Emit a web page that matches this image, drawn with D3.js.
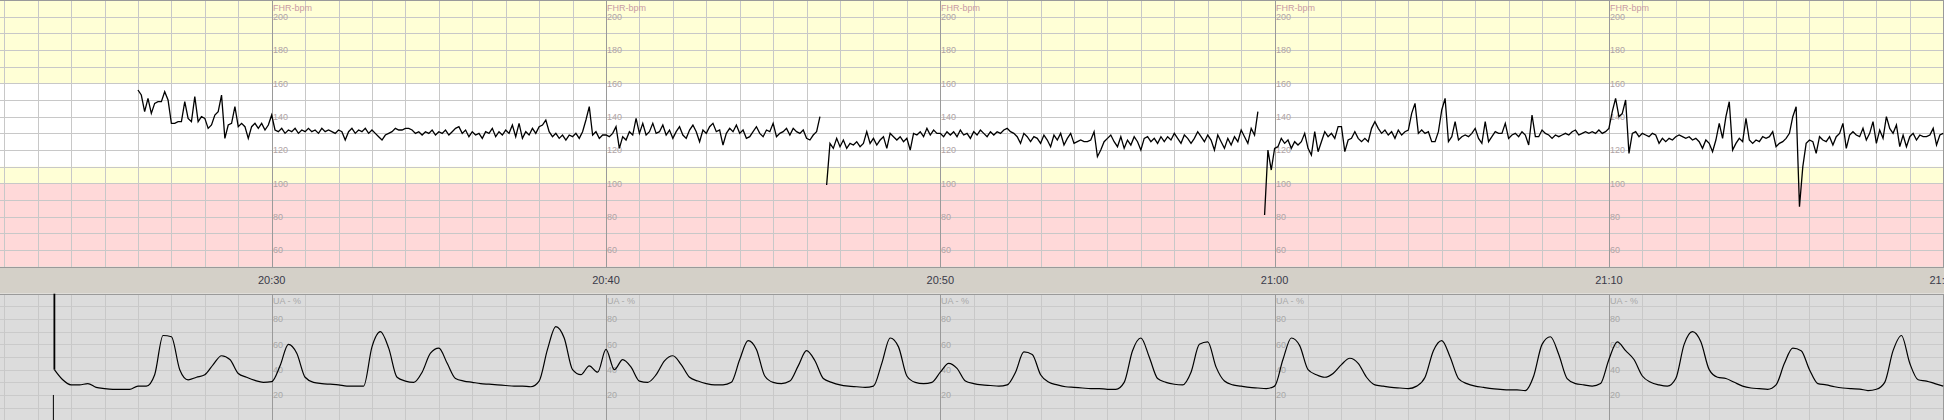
<!DOCTYPE html>
<html>
<head>
<meta charset="utf-8">
<script src="https://cdn.jsdelivr.net/npm/d3@7"></script>
<style>
  body { margin: 0; background: #fff; overflow: hidden; }
  svg { display: block; }
  text { font-family: "Liberation Sans", Arial, sans-serif; }
</style>
</head>
<body>
<div id="chart"></div>
<script>
// fetal heart rate, one value every 6 s, null = signal loss
var fhrStart = "20:26:00", fhrStepSec = 6;
var fhr2026 = [156, 153, 143, 151, 142, 148, 149, 149, 155, 150,
  136, 136, 137, 137, 149, 139, 137, 152, 137, 140,
  139, 133, 135, 141, 143, 153, 127, 135, 136, 146,
  134, 136, 134, 127, 134, 136, 133, 136, 132, 135];
var fhr2030 = [141, 132, 131, 133, 130, 132, 131, 133, 130, 132,
  131, 133, 131, 132, 130, 133, 131, 132, 131, 130,
  132, 131, 126, 131, 133, 130, 132, 131, 133, 130,
  132, 130, 128, 126, 129, 130, 131, 133, 132, 132,
  133, 133, 132, 130, 131, 129, 131, 130, 132, 129,
  131, 130, 132, 129, 131, 133, 134, 130, 132, 128,
  131, 129, 130, 127, 131, 130, 133, 128, 131, 129,
  132, 130, 135, 128, 136, 127, 131, 129, 133, 130,
  134, 135, 138, 131, 128, 130, 127, 129, 126, 129,
  128, 130, 127, 131, 138, 146, 129, 131, 127, 129];
var fhr2040 = [129, 128, 130, 134, 121, 128, 126, 131, 129, 139,
  130, 136, 129, 131, 136, 130, 131, 135, 129, 132,
  127, 131, 134, 129, 127, 132, 135, 131, 125, 132,
  130, 134, 136, 131, 132, 123, 130, 133, 131, 135,
  130, 132, 127, 128, 131, 134, 130, 128, 132, 131,
  136, 128, 130, 131, 133, 129, 133, 131, 130, 132,
  127, 126, 129, 131, 140, null, 99, 124, 121, 127,
  122, 126, 121, 124, 123, 125, 122, 124, 131, 124,
  127, 123, 126, 128, 121, 130, 128, 126, 128, 125,
  127, 120, 130, 129, 131, 128, 133, 129, 132, 130];
var fhr2050 = [130, 128, 131, 129, 131, 128, 132, 129, 130, 127,
  131, 129, 132, 130, 128, 131, 129, 131, 130, 132,
  133, 131, 130, 128, 124, 130, 128, 125, 128, 127,
  124, 129, 126, 122, 129, 126, 130, 123, 127, 130,
  124, 125, 126, 125, 125, 126, 131, 116, 120, 125,
  127, 129, 125, 122, 128, 121, 126, 123, 128, 125,
  120, 127, 128, 125, 127, 124, 128, 125, 128, 126,
  130, 127, 124, 129, 127, 124, 127, 131, 128, 125,
  129, 126, 120, 129, 125, 121, 127, 123, 128, 125,
  132, 128, 124, 133, 129, 143, null, 81, 120, 108];
var fhr2100 = [121, 122, 127, 124, 126, 121, 125, 123, 125, 130,
  121, 117, 131, 119, 125, 131, 128, 130, 127, 134,
  134, 119, 126, 127, 131, 127, 125, 127, 125, 133,
  137, 133, 130, 132, 129, 131, 127, 132, 129, 131,
  132, 142, 148, 130, 132, 130, 131, 125, 125, 131,
  144, 151, 125, 128, 137, 126, 128, 129, 128, 130,
  133, 127, 124, 137, 125, 128, 131, 130, 130, 136,
  127, 129, 130, 128, 131, 129, 123, 141, 128, 128,
  132, 130, 129, 127, 129, 128, 129, 130, 129, 131,
  132, 129, 130, 131, 130, 131, 130, 132, 130, 131];
var fhr2110 = [133, 143, 151, 140, 142, 150, 118, 130, 131, 128,
  130, 129, 128, 130, 129, 124, 127, 125, 127, 126,
  128, 129, 128, 127, 128, 126, 127, 125, 121, 126,
  124, 119, 126, 136, 127, 140, 149, 120, 124, 127,
  125, 139, 126, 124, 126, 125, 128, 127, 128, 131,
  122, 124, 125, 127, 130, 140, 146, 86, 110, 124,
  126, 125, 118, 128, 126, 125, 128, 123, 128, 130,
  136, 121, 129, 131, 129, 128, 133, 126, 130, 137,
  124, 132, 127, 140, 133, 130, 135, 122, 129, 122,
  128, 130, 126, 129, 128, 128, 129, 133, 123, 129,
  130];

// uterine activity, one value every 15 s
var uaStart = "20:23:30", uaStepSec = 15;
var ua2023 = [40, 32, 28, 28, 29, 26, 25, 24.5, 24.5, 24.5, 27, 27, 36, 67, 66, 40, 32, 34, 36, 44, 51, 48, 37, 34, 31.5, 30];
var ua2030 = [30.5, 43, 60, 53, 34, 30, 29, 28.5, 28, 27, 27, 27, 58, 70, 57, 34, 31, 30, 38, 53,
  57, 45, 33, 31, 30, 29, 28.5, 28, 27.5, 27, 27, 26.5, 31, 56, 74, 65, 40, 36, 43, 38];
var ua2040 = [56, 40, 48, 42, 31, 30, 36, 47, 51, 44, 34, 31, 29, 28, 28, 30, 48, 63, 56, 35,
  30, 29, 31, 43, 55, 47, 33, 30, 28, 27, 26.5, 26, 27, 45, 65, 58, 35, 30, 29, 30];
var ua2050 = [38, 45, 41, 31, 29, 28, 27.5, 27, 28, 38, 54, 52, 36, 30, 28, 26.5, 26, 25.5, 25, 25,
  24.5, 24.5, 30, 55, 65, 50, 33, 30, 28.5, 28, 38, 60, 62, 42, 31, 28, 27, 26, 25.5, 25];
var ua2100 = [27, 48, 65, 59, 40, 36, 34, 37, 44, 49, 45, 34, 28, 27, 26, 25.5, 25, 27, 34, 55,
  63, 50, 33, 29, 27, 26, 25, 24.5, 24, 24, 23.5, 35, 60, 66, 52, 33, 29, 28, 27, 29];
var ua2110 = [48, 62, 55, 48, 35, 30, 28, 27, 33, 60, 70, 62, 40, 34, 33, 30, 27, 25.5, 25, 24.5,
  28, 45, 57, 55, 40, 29, 28, 26.5, 25.5, 25, 24.7, 23.5, 24.5, 30, 55, 67, 45, 32, 31, 29, 27];

// axis setup
var viewStart = "20:21:52.4", viewEnd = "21:20:01.4";
var fhrRange = [50, 210], fhrZones = [210, 160, 110, 100, 50];
var fhrTicks = [200, 180, 160, 140, 120, 100, 80, 60];
var uaRange = [0, 100], uaTicks = [80, 60, 40, 20];

var width = 1944, height = 420;
var fhrTop = 0, fhrBottom = 266.7, bandBottom = 293.7, uaBottom = 420.3;
var zoneColors = ["#ffffd6", "#ffffff", "#ffffd6", "#ffd9d9"];

function t(s) { return new Date("2020-01-01T" + s); }
function series(start, step, chunks) {
  var vals = [].concat.apply([], chunks), t0 = t(start).getTime();
  return vals.map(function(v, i) { return { time: new Date(t0 + i * step * 1000), value: v }; });
}

var fhr = series(fhrStart, fhrStepSec, [fhr2026, fhr2030, fhr2040, fhr2050, fhr2100, fhr2110]);
var ua = series(uaStart, uaStepSec, [ua2023, ua2030, ua2040, ua2050, ua2100, ua2110]);

var x = d3.scaleTime().domain([t(viewStart), t(viewEnd)]).range([0, width]);
var yF = d3.scaleLinear().domain(fhrRange).range([fhrBottom, fhrTop]);
var yU = d3.scaleLinear().domain(uaRange).range([uaBottom, bandBottom]);

var minutes = d3.timeMinute.range(x.domain()[0], x.domain()[1]);
var majors = minutes.filter(function(d) { return d.getMinutes() % 10 === 0; });
// the last 10-minute line sits on the right edge: only its (clipped) time label shows
var labelled = majors.filter(function(d) { return x(d) < width - 40; });
var px = function(v) { return Math.round(v) + 0.5; };

var svg = d3.select("#chart").append("svg")
    .attr("width", width).attr("height", height);

// FHR zones
svg.append("g").selectAll("rect")
  .data(d3.pairs(fhrZones))
  .enter().append("rect")
    .attr("x", 0).attr("width", width)
    .attr("y", function(d) { return yF(d[0]); })
    .attr("height", function(d) { return yF(d[1]) - yF(d[0]); })
    .attr("fill", function(d, i) { return zoneColors[i]; });

// time band and UA background
svg.append("rect").attr("x", 0).attr("width", width)
  .attr("y", fhrBottom).attr("height", bandBottom - fhrBottom).attr("fill", "#d4d0c8");
svg.append("rect").attr("x", 0).attr("width", width)
  .attr("y", bandBottom).attr("height", uaBottom - bandBottom).attr("fill", "#dcdcdc");

var grid = svg.append("g").attr("shape-rendering", "crispEdges");

// horizontal grid
grid.selectAll(".hf").data(d3.range(60, 210, 10)).enter().append("line")
  .attr("x1", 0).attr("x2", width)
  .attr("y1", function(d) { return px(yF(d)); }).attr("y2", function(d) { return px(yF(d)); })
  .attr("stroke", "#c8c8c8");
grid.selectAll(".hu").data(d3.range(10, 100, 10)).enter().append("line")
  .attr("x1", 0).attr("x2", width)
  .attr("y1", function(d) { return px(yU(d)); }).attr("y2", function(d) { return px(yU(d)); })
  .attr("stroke", "#cacaca");

// vertical grid (minutes)
[[fhrTop, fhrBottom], [bandBottom, uaBottom]].forEach(function(r) {
  grid.selectAll(null).data(minutes).enter().append("line")
    .attr("x1", function(d) { return px(x(d)); }).attr("x2", function(d) { return px(x(d)); })
    .attr("y1", r[0]).attr("y2", r[1])
    .attr("stroke", function(d) { return d.getMinutes() % 10 === 0 ? "#9a9a9a" : "#c8c8c8"; });
});

// panel borders
[fhrTop, fhrBottom, bandBottom].forEach(function(y) {
  grid.append("line").attr("x1", 0).attr("x2", width)
    .attr("y1", px(y)).attr("y2", px(y)).attr("stroke", "#9a9a9a");
});

// axis labels at every 10 minutes
var labels = svg.append("g").attr("font-size", 9);
labelled.forEach(function(m) {
  var lx = Math.round(x(m)) + 1;
  labels.append("text").attr("x", lx).attr("y", 11).attr("fill", "#c89aa4").text("FHR-bpm");
  fhrTicks.forEach(function(v) {
    labels.append("text").attr("x", lx).attr("y", yF(v) + 3.3).attr("fill", "#b0a4a6").text(v);
  });
  labels.append("text").attr("x", lx).attr("y", bandBottom + 10).attr("fill", "#a8a8a8").text("UA - %");
  uaTicks.forEach(function(v) {
    labels.append("text").attr("x", lx).attr("y", yU(v) + 3.3).attr("fill", "#a8a8a8").text(v);
  });
});

svg.append("g").selectAll("text").data(majors).enter().append("text")
  .attr("x", function(d) { return x(d); })
  .attr("y", fhrBottom + 17)
  .attr("text-anchor", "middle")
  .attr("font-size", 11)
  .attr("fill", "#3a3a48")
  .text(d3.timeFormat("%H:%M"));

// traces
var fhrLine = d3.line()
  .defined(function(d) { return d.value != null; })
  .x(function(d) { return x(d.time); })
  .y(function(d) { return yF(d.value); });
svg.append("path").datum(fhr)
  .attr("d", fhrLine).attr("fill", "none").attr("stroke", "#000").attr("stroke-width", 1.3);

var uaLine = d3.line()
  .x(function(d) { return x(d.time); })
  .y(function(d) { return yU(d.value); })
  .curve(d3.curveMonotoneX);
svg.append("path").datum(ua)
  .attr("d", uaLine).attr("fill", "none").attr("stroke", "#000").attr("stroke-width", 1.2);

// transducer onset spike
svg.append("line")
  .attr("x1", x(ua[0].time)).attr("x2", x(ua[0].time))
  .attr("y1", yU(uaRange[1])).attr("y2", yU(ua[0].value))
  .attr("stroke", "#000").attr("stroke-width", 1.8);
svg.append("line")
  .attr("x1", x(ua[0].time) - 1).attr("x2", x(ua[0].time) - 1)
  .attr("y1", yU(uaTicks[3])).attr("y2", yU(uaRange[0]))
  .attr("stroke", "#000").attr("stroke-width", 1);
</script>
</body>
</html>
